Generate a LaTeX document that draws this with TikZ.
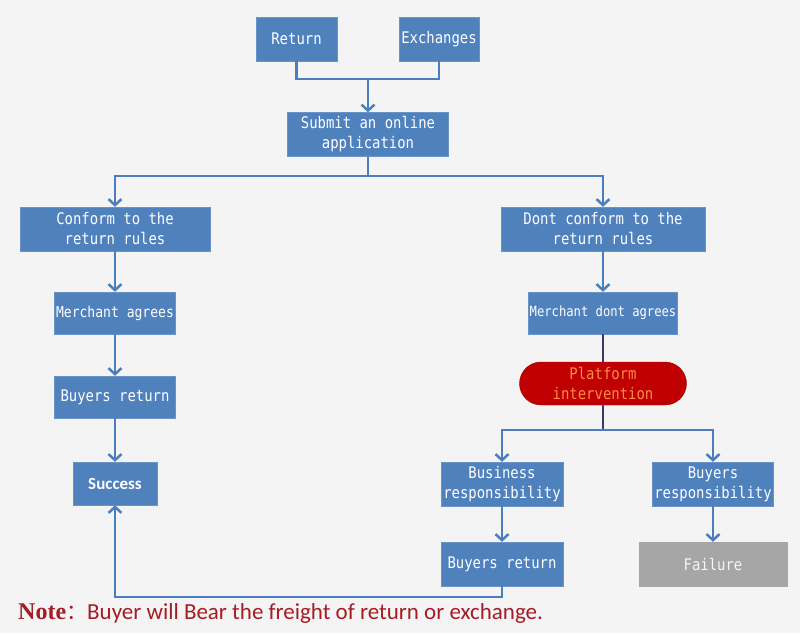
\documentclass[tikz,border=0pt]{standalone}
\usepackage{fontspec}
\usepackage{xcolor}
\usepackage{tikz}
\usetikzlibrary{arrows.meta}
\setmainfont{Liberation Serif}
\newfontfamily\boxfont[FakeStretch=0.87]{DejaVu Sans Mono}
\newfontfamily\notefont{Carlito}
\newfontfamily\cjk{Noto Sans CJK SC}

\definecolor{bgpaper}{HTML}{F4F4F4}
\definecolor{boxblue}{HTML}{4F81BD}
\definecolor{boxedge}{HTML}{6A93C8}
\definecolor{lineblue}{HTML}{4A7EBF}
\definecolor{darkline}{HTML}{3B3A6A}
\definecolor{platred}{HTML}{C00000}
\definecolor{platedge}{HTML}{A00000}
\definecolor{plattext}{HTML}{FF8A48}
\definecolor{failgray}{HTML}{A6A6A6}
\definecolor{notered}{HTML}{A51C24}

\tikzset{
  box/.style={draw=boxedge, fill=boxblue, text=white, font=\boxfont\fontsize{16}{20}\selectfont,
    minimum height=44pt, inner sep=0pt, align=center},
  link/.style={draw=lineblue, line width=2.5pt},
  arr/.style={link, -{Straight Barb[length=6pt,width=13pt,line width=2.5pt]}},
}

\begin{document}
\begin{tikzpicture}[x=1pt,y=-1pt]
\fill[bgpaper] (0,0) rectangle (800,633);
\useasboundingbox (0,0) rectangle (800,633);

    \node[box, minimum width=81pt] (ret) at (296.5,39) {Return};
    \node[box, minimum width=80pt] (exc) at (439,39) {Exchanges};
    \node[box, minimum width=161pt] (sub) at (368,134.5) {Submit an online\\application};

    \node[box, minimum width=190pt] (conf) at (115,229) {Conform to the\\return rules};
    \node[box, minimum width=204pt] (nconf) at (603,229) {Dont conform to the\\return rules};

    \node[box, minimum width=121pt, minimum height=42pt, font=\boxfont\fontsize{15}{20}\selectfont] (agree) at (115,313) {Merchant agrees};
    \node[box, minimum width=121pt, minimum height=42pt] (bret) at (115,397) {Buyers return};
    \node[box, minimum width=84pt, minimum height=43pt, font=\notefont\bfseries\fontsize{17}{18}\selectfont] (succ) at (115,483.5) {Success};

    \node[box, minimum width=149pt, minimum height=42pt, font=\boxfont\fontsize{14}{20}\selectfont] (nagree) at (603,313) {Merchant dont agrees};
    \node[box, draw=platedge, fill=platred, text=plattext, minimum width=167pt, minimum height=43pt,
      rounded corners=21.5pt] (plat) at (603,383.5) {Platform\\intervention};

    \node[box, minimum width=122pt] (bus) at (502,484) {Business\\responsibility};
    \node[box, minimum width=121pt] (buyr) at (713,484) {Buyers\\responsibility};
    \node[box, minimum width=122pt] (bret2) at (502,564) {Buyers return};
    \node[box, draw=failgray, fill=failgray, text=white!92!gray, minimum width=148pt] (fail) at (713,564) {Failure};

    \coordinate (j1) at (368,79);
    \coordinate (j2) at (368,176);
    \coordinate (j3) at (603,430);
    \coordinate (j4) at (502,597);

    % draw the connectors
    \draw[link] (ret) |- (j1) -| (exc);
    \draw[arr] (j1) -- (sub);
    \draw[link] (sub) -- (j2);
    \draw[arr] (j2) -| (conf);
    \draw[arr] (j2) -| (nconf);

    \draw[arr] (conf) -- (agree);
    \draw[arr] (agree) -- (bret);
    \draw[arr] (bret) -- (succ);

    \draw[arr] (nconf) -- (nagree);
    \draw[link, draw=darkline] (nagree) -- (plat);
    \draw[link, draw=darkline] (plat) -- (j3);
    \draw[arr] (j3) -| (bus);
    \draw[arr] (j3) -| (buyr);
    \draw[arr] (bus) -- (bret2);
    \draw[arr] (buyr) -- (fail);
    \draw[arr] (bret2) -- (j4) -| (succ);

    \node[anchor=base west, inner sep=0pt, text=notered] (note) at (18,619)
      {\fontsize{24}{26}\selectfont\bfseries Note\cjk\mdseries\fontsize{21}{24}\selectfont ：\notefont\fontsize{23}{26}\selectfont Buyer will Bear the freight of return or exchange.};

\end{tikzpicture}
\end{document}
